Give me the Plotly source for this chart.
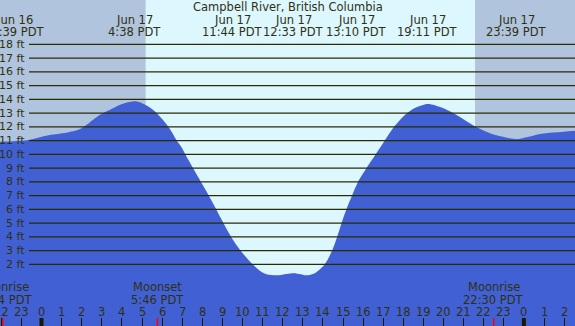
import plotly.graph_objects as go

# ---------------- data (hours from Jun 17 00:00 PDT, feet) ----------------
tide_hours = [-2.6, -2.09, -1.4, -0.65, 0.4, 1.23, 1.89, 2.23, 2.89, 3.39, 3.88,
              4.3, 4.65, 4.9, 5.15, 5.48, 5.73, 5.98, 6.31, 6.56, 6.73, 6.98,
              7.15, 7.54, 7.93, 8.32, 8.69, 9.05, 9.43, 9.90, 10.5, 10.9, 11.2,
              11.73, 12.2, 12.55, 12.9, 13.17, 13.6, 14.09, 14.46, 14.71, 14.93,
              15.17, 15.45, 15.75, 16.17, 16.63, 17.08, 17.54, 18.19, 18.66, 19.24,
              19.9, 20.48, 21.56, 22.31, 23.31, 23.65, 24.3, 24.8, 25.63, 26.54, 27.0]
tide_feet = [10.92, 10.92, 10.95, 11.04, 11.4, 11.57, 11.82, 12.13, 12.86, 13.22, 13.59,
             13.78, 13.86, 13.78, 13.6, 13.32, 13.0, 12.6, 12.0, 11.43, 11.0, 10.47,
             10.0, 9.0, 8.0, 7.0, 6.0, 5.0, 4.0, 3.0, 2.0, 1.5, 1.27,
             1.2, 1.3, 1.35, 1.28, 1.2, 1.35, 2.0, 3.0, 4.0, 5.0,
             6.0, 7.0, 8.0, 9.0, 10.0, 11.0, 12.0, 13.0, 13.42, 13.66,
             13.4, 13.0, 12.04, 11.53, 11.16, 11.11, 11.3, 11.48, 11.6, 11.72, 11.75]

station = "Campbell River, British Columbia"
event_dates = ["Jun 16", "Jun 17", "Jun 17", "Jun 17", "Jun 17", "Jun 17", "Jun 17"]
event_times = ["22:39 PDT", "4:38 PDT", "11:44 PDT", "12:33 PDT", "13:10 PDT", "19:11 PDT", "23:39 PDT"]
event_hours = [-1.35, 4.633, 11.733, 12.55, 13.167, 19.183, 23.65]

moon_names = ["Moonrise", "Moonset", "Moonrise"]
moon_times = ["22:04 PDT", "5:46 PDT", "22:30 PDT"]
moon_hours = [-1.93, 5.767, 22.5]

sunrise_hour = 5.18
sunset_hour = 21.57

grid_feet = list(range(2, 19))
hour_ticks = list(range(-2, 27))
midnights = [0, 24]

# ---------------- style ----------------
W, H = 575, 326
NIGHT = "#b0c4de"
DAY = "#ddf7ff"
WATER = "#4060d4"
INK = "#303010"
FONT = "DejaVu Sans"
X_RANGE = [-41.5 / 20.1, (575 - 41.5) / 20.1]
Y_RANGE = [2 - (326 - 264.3) / 13.75, 2 + 264.3 / 13.75]

# label shifts so the packed header labels don't collide (layout only)
label_shift = [0, 0, -2.22, 0, 2.52, 0, 0]

fig = go.Figure()

fig.add_trace(go.Scatter(x=[tide_hours[0], tide_hours[-1]], y=[Y_RANGE[0] - 1] * 2,
                         mode="lines", line=dict(width=0), hoverinfo="skip", showlegend=False))
fig.add_trace(go.Scatter(x=tide_hours, y=tide_feet, mode="lines",
                         line=dict(color=WATER, width=0, shape="spline", smoothing=0.8),
                         fill="tonexty", fillcolor=WATER, hoverinfo="skip", showlegend=False))

shapes = []
shapes.append(dict(type="rect", xref="x", yref="paper", x0=sunrise_hour, x1=sunset_hour,
                   y0=0, y1=1, fillcolor=DAY, line=dict(width=0), layer="below"))
for f in grid_feet:
    shapes.append(dict(type="line", xref="paper", yref="y", x0=29 / W, x1=1, y0=f, y1=f,
                       line=dict(color="#2b2b00", width=1.2), layer="above"))
for m in midnights:
    shapes.append(dict(type="line", xref="x", yref="paper", x0=m, x1=m, y0=0, y1=8 / H,
                       line=dict(color="#1a1a00", width=4), layer="above"))
for mh in moon_hours:
    shapes.append(dict(type="line", xref="x", yref="paper", x0=mh, x1=mh, y0=0, y1=8 / H,
                       line=dict(color="#ff0000", width=1.5), layer="above"))

ann = []
ann.append(dict(text=station, x=0.5, y=1 - 7 / H, xref="paper", yref="paper",
                showarrow=False, font=dict(family=FONT, size=11.5, color=INK),
                xanchor="center", yanchor="middle"))
for d, t, h, s in zip(event_dates, event_times, event_hours, label_shift):
    ann.append(dict(text=d, x=h + s, y=1 - 20 / H, xref="x", yref="paper", showarrow=False,
                    font=dict(family=FONT, size=11.5, color=INK), xanchor="center", yanchor="middle"))
    ann.append(dict(text=t, x=h + s, y=1 - 31.5 / H, xref="x", yref="paper", showarrow=False,
                    font=dict(family=FONT, size=11.5, color=INK), xanchor="center", yanchor="middle"))
for f in grid_feet:
    ann.append(dict(text=f"{f} ft", x=27 / W, y=f, xref="paper", yref="y", showarrow=False,
                    font=dict(family=FONT, size=11, color=INK), xanchor="right", yanchor="middle"))
for n, t, h in zip(moon_names, moon_times, moon_hours):
    ann.append(dict(text=n, x=h, y=(H - 287) / H, xref="x", yref="paper", showarrow=False,
                    font=dict(family=FONT, size=11.5, color=INK), xanchor="center", yanchor="middle"))
    ann.append(dict(text=t, x=h, y=(H - 299.5) / H, xref="x", yref="paper", showarrow=False,
                    font=dict(family=FONT, size=11.5, color=INK), xanchor="center", yanchor="middle"))
for h in hour_ticks:
    ann.append(dict(text=str(h % 24), x=h, y=(H - 311.5) / H, xref="x", yref="paper", showarrow=False,
                    font=dict(family=FONT, size=11.5, color=INK), xanchor="center", yanchor="middle"))

fig.update_layout(
    width=W, height=H, margin=dict(l=0, r=0, t=0, b=0),
    paper_bgcolor=NIGHT, plot_bgcolor=NIGHT,
    shapes=shapes, annotations=ann, showlegend=False,
    xaxis=dict(range=X_RANGE, showgrid=False, zeroline=False, showticklabels=False,
               ticks="inside", ticklen=8, tickwidth=1, tickcolor="#1a1a00",
               tick0=0, dtick=1, showline=False, fixedrange=True),
    yaxis=dict(range=Y_RANGE, showgrid=False, zeroline=False, showticklabels=False,
               showline=False, fixedrange=True),
)

fig.write_html("out.html", config={"displayModeBar": False},
               post_script="document.body.style.margin='0';document.body.style.overflow='hidden';")
